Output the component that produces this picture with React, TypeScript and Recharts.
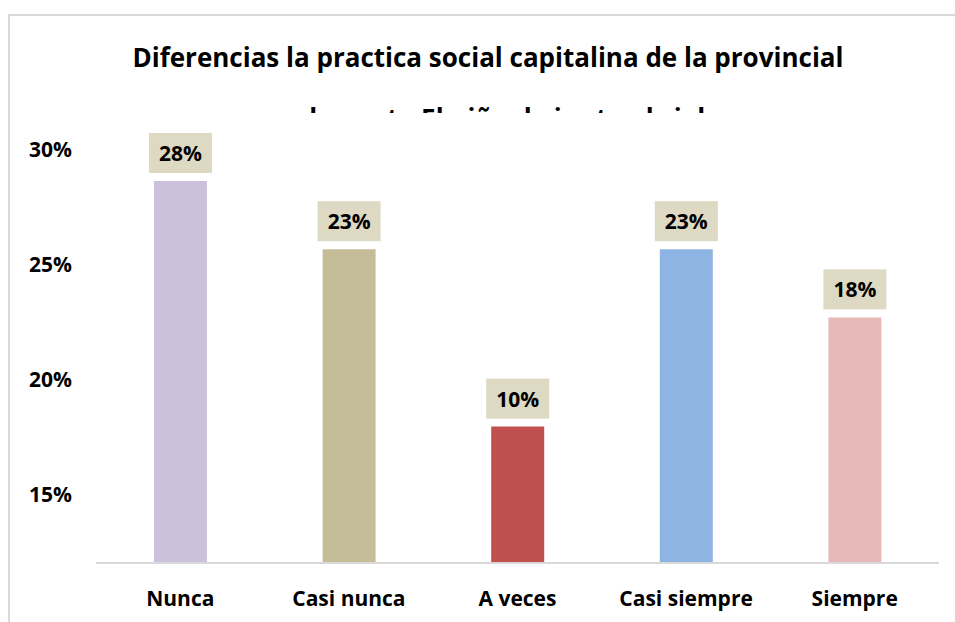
import React from 'react';
import { BarChart, Bar, XAxis, YAxis, Cell, LabelList } from 'recharts';

const categories = ['Nunca', 'Casi nunca', 'A veces', 'Casi siempre', 'Siempre'];
const values = [28, 23, 10, 23, 18];
const colors = ['#ccc1da', '#c4bd97', '#c0504d', '#8eb4e3', '#e6b9b8'];
const axisTicks = [15, 20, 25, 30];
const titleLines = ['Diferencias la practica social capitalina de la provincial', 'en el cuento El niño de junto al cielo'];

const data = categories.map((c, i) => ({ name: c, value: values[i] }));

const FONT = '"Open Sans", sans-serif';

const renderLabel = (props: any) => {
  const { x, y, width, value } = props;
  const cx = x + width / 2;
  const bw = 63;
  const bh = 40;
  const top = y - 8 - bh;
  return (
    <g>
      <rect x={cx - bw / 2} y={top} width={bw} height={bh} fill="#ddd9c3" />
      <text x={cx} y={top + bh / 2} textAnchor="middle" dominantBaseline="central" fontFamily={FONT} fontWeight="bold" fontSize={21} fill="#000">
        {value + '%'}
      </text>
    </g>
  );
};

export default function App() {
  return (
    <div>
      <div style={{ position: 'absolute', left: 8, top: 14, width: 960, height: 620, borderLeft: '2px solid #d9d9d9', borderTop: '2px solid #d9d9d9', boxSizing: 'border-box' }} />
      <div style={{ position: 'absolute', left: 38, top: 27, width: 900, height: 86, overflow: 'hidden', textAlign: 'center', fontFamily: FONT, fontWeight: 'bold', fontSize: 26, lineHeight: '61px', color: '#000' }}>
        <div>{titleLines[0]}</div>
        <div>{titleLines[1]}</div>
      </div>
      <div style={{ position: 'absolute', left: 0, top: 0 }}>
        <BarChart width={955} height={622} data={data} margin={{ top: 150, right: 16, bottom: 29, left: 20 }} barSize={53}>
          <XAxis dataKey="name" height={30} axisLine={{ stroke: '#d9d9d9', strokeWidth: 2 }} tickLine={false} tickSize={0} tickMargin={28} tick={{ fontFamily: FONT, fontWeight: 'bold', fontSize: 21, fill: '#000' }} interval={0} />
          <YAxis yAxisId="scale" orientation="left" width={76} domain={[12, 30]} ticks={axisTicks} type="number" allowDataOverflow axisLine={false} tickLine={false} tickSize={0} tickMargin={24} tickFormatter={(v: number) => v + '%'} tick={{ fontFamily: FONT, fontWeight: 'bold', fontSize: 21, fill: '#000' }} />
          <YAxis yAxisId="bars" orientation="right" width={0} hide domain={[0, 30.27]} type="number" allowDataOverflow />
          <Bar yAxisId="bars" dataKey="value" isAnimationActive={false}>
            {data.map((d, i) => (
              <Cell key={d.name} fill={colors[i]} />
            ))}
            <LabelList dataKey="value" content={renderLabel} />
          </Bar>
        </BarChart>
      </div>
    </div>
  );
}
